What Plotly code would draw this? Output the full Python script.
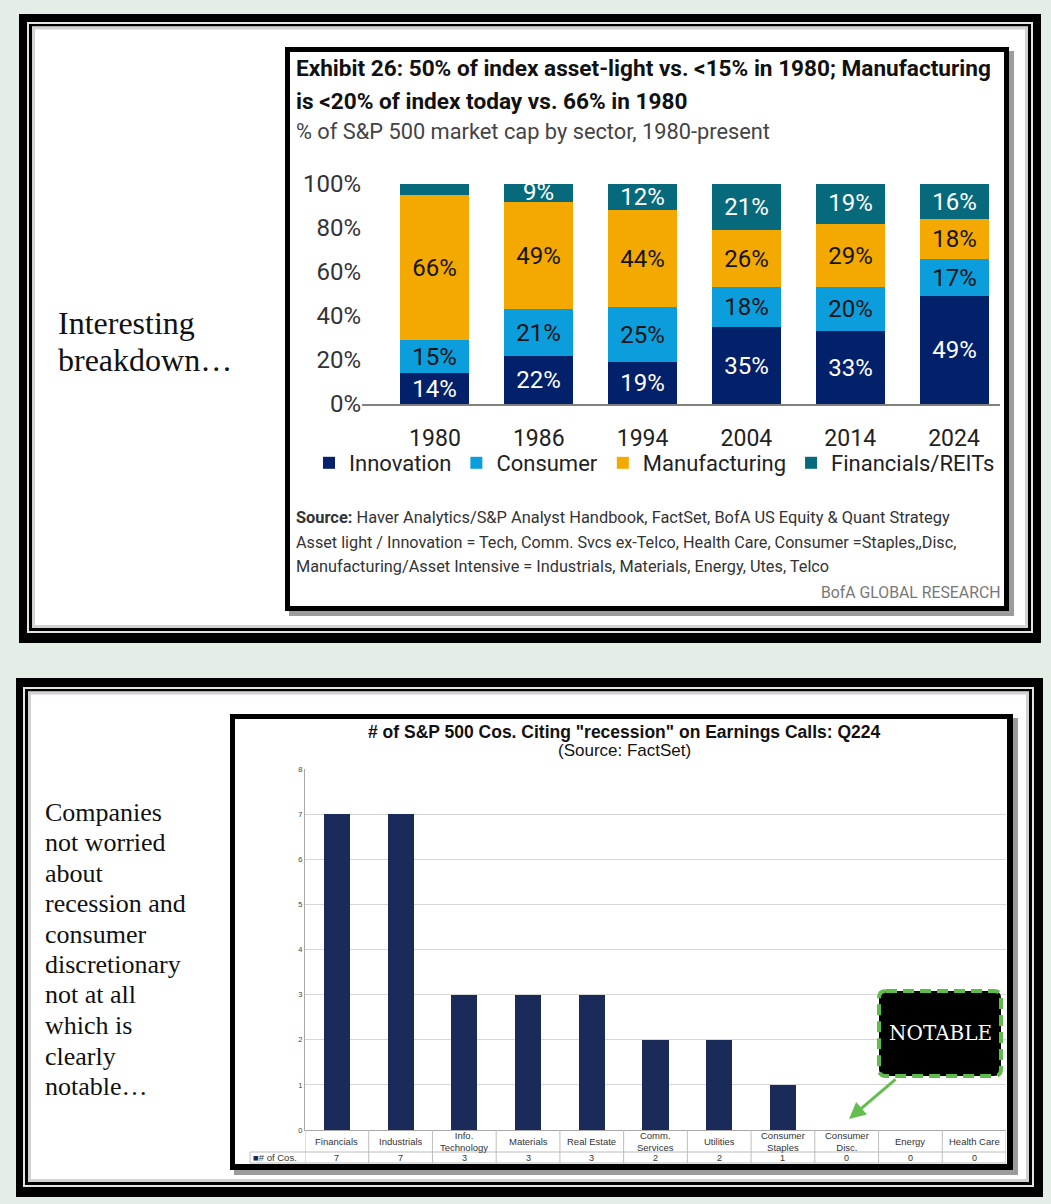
import plotly.graph_objects as go

W, H = 1051, 1204

# ---------------- data: top chart ----------------
years = ["1980", "1986", "1994", "2004", "2014", "2024"]
innovation = [14, 22, 19, 35, 33, 49]
consumer = [15, 21, 25, 18, 20, 17]
manufacturing = [66, 49, 44, 26, 29, 18]
financials = [5, 9, 12, 21, 19, 16]
y_ticks = [0, 20, 40, 60, 80, 100]
y_tick_labels = ["0%", "20%", "40%", "60%", "80%", "100%"]

# ---------------- data: bottom chart ----------------
sectors = ["Financials", "Industrials", "Info. Technology", "Materials", "Real Estate",
           "Comm. Services", "Utilities", "Consumer Staples", "Consumer Disc.", "Energy",
           "Health Care"]
sector_labels = ["Financials", "Industrials", "Info.<br>Technology", "Materials", "Real Estate",
                 "Comm.<br>Services", "Utilities", "Consumer<br>Staples", "Consumer<br>Disc.",
                 "Energy", "Health Care"]
counts = [7, 7, 3, 3, 3, 2, 2, 1, 0, 0, 0]

COND = "Roboto, 'Liberation Sans', sans-serif"
ARIAL = "'Liberation Sans', Arial, sans-serif"
SERIF = "'Liberation Serif', 'DejaVu Serif', serif"
SLAB = "'DejaVu Serif', serif"


def X(px):
    return px / W


def Y(py):
    return 1 - py / H


def rect(x0, y0, x1, y1, fill):
    return dict(type="rect", xref="paper", yref="paper", x0=X(x0), x1=X(x1), y0=Y(y1), y1=Y(y0),
                fillcolor=fill, line=dict(color=fill, width=0), layer="below")


fig = go.Figure()

series = [
    ("Innovation", innovation, "#03206b", "#ffffff"),
    ("Consumer", consumer, "#0c9ddc", "#141414"),
    ("Manufacturing", manufacturing, "#f4a900", "#141414"),
    ("Financials/REITs", financials, "#076a7c", "#ffffff"),
]
for name, vals, color, tcolor in series:
    labels = [f"{v}%" if v >= 9 else "" for v in vals]
    fig.add_trace(go.Bar(
        x=years, y=vals, name=name, marker=dict(color=color, line=dict(width=0)),
        text=labels, textposition="inside", insidetextanchor="middle", textangle=0,
        constraintext="none",
        textfont=dict(family=COND, size=24, color=tcolor), width=0.665,
        xaxis="x", yaxis="y", hoverinfo="skip", cliponaxis=True))

fig.add_trace(go.Bar(
    x=sectors, y=counts, marker=dict(color="#1a2b5a", line=dict(width=0)), width=0.41,
    xaxis="x2", yaxis="y2", showlegend=False, hoverinfo="skip", name="# of Cos."))

shapes = []
# ---- top frame ----
shapes += [
    rect(19, 14, 1041, 643, "#000000"),
    rect(27, 22, 1033, 633, "#dfe7df"),
    rect(29, 24, 1031, 631, "#000000"),
    rect(32, 26.5, 1028, 628, "#ffffff"),
    dict(type="rect", xref="paper", yref="paper", x0=X(33.5), x1=X(1026.5), y0=Y(626.5), y1=Y(28),
         line=dict(color="#d2d2d2", width=3), layer="below"),
]
# ---- bottom frame ----
shapes += [
    rect(16, 678, 1043, 1197, "#000000"),
    rect(23, 687, 1034, 1187, "#dfe7df"),
    rect(25, 689, 1032, 1185, "#000000"),
    rect(28, 691.5, 1029, 1182, "#ffffff"),
    dict(type="rect", xref="paper", yref="paper", x0=X(29.5), x1=X(1027.5), y0=Y(1180.5), y1=Y(693),
         line=dict(color="#d2d2d2", width=3), layer="below"),
]
# ---- chart boxes ----
shapes += [
    rect(289, 51, 1014, 616, "#9c9c9c"),
    rect(285, 47, 1009, 611, "#000000"),
    rect(290, 52, 1004, 606, "#ffffff"),
    rect(234, 718, 1018, 1175, "#9c9c9c"),
    rect(230, 714, 1013, 1170, "#000000"),
    rect(235, 719, 1007, 1164, "#ffffff"),
]
# ---- table lines (bottom chart) ----
TL = "#bdbdbd"
for k in range(len(sectors) + 1):
    shapes.append(dict(type="line", xref="x2", yref="paper", x0=k - 0.5, x1=k - 0.5,
                       y0=Y(1163), y1=Y(1130), line=dict(color=TL, width=1)))
for yy in (1152, 1163):
    shapes.append(dict(type="line", xref="paper", yref="paper", x0=X(250), x1=X(1006),
                       y0=Y(yy), y1=Y(yy), line=dict(color=TL, width=1)))
shapes.append(dict(type="line", xref="paper", yref="paper", x0=X(250), x1=X(250),
                   y0=Y(1163), y1=Y(1152), line=dict(color=TL, width=1)))


# ---- NOTABLE box ----
def rrect_path(x0, y0, x1, y1, r):
    p = lambda x, y: f"{X(x)},{Y(y)}"
    return (f"M {p(x0 + r, y0)} L {p(x1 - r, y0)} Q {p(x1, y0)} {p(x1, y0 + r)} "
            f"L {p(x1, y1 - r)} Q {p(x1, y1)} {p(x1 - r, y1)} L {p(x0 + r, y1)} "
            f"Q {p(x0, y1)} {p(x0, y1 - r)} L {p(x0, y0 + r)} Q {p(x0, y0)} {p(x0 + r, y0)} Z")


shapes.append(dict(type="path", xref="paper", yref="paper", path=rrect_path(879, 991, 1001, 1076, 7),
                   fillcolor="#000000", line=dict(color="#5fbb4a", width=4, dash="11px,6px"),
                   layer="above"))

annotations = []


def txt(x, y, s, size, family, color="#111", xanchor="left", yanchor="middle", **kw):
    annotations.append(dict(text=s, x=X(x), y=Y(y), xref="paper", yref="paper", showarrow=False,
                            xanchor=xanchor, yanchor=yanchor,
                            font=dict(size=size, family=family, color=color), **kw))


# top chart texts
txt(294, 69, "<b>Exhibit 26: 50% of index asset-light vs. &lt;15% in 1980; Manufacturing</b>", 22.6, COND, "#111")
txt(294, 101, "<b>is &lt;20% of index today vs. 66% in 1980</b>", 22.6, COND, "#111")
txt(294, 132, "% of S&P 500 market cap by sector, 1980-present", 21.8, COND, "#444")
txt(294, 517, "<b>Source:</b> Haver Analytics/S&P Analyst Handbook, FactSet, BofA US Equity & Quant Strategy", 16.4, COND, "#333")
txt(294, 542, "Asset light / Innovation = Tech, Comm. Svcs ex-Telco, Health Care, Consumer =Staples,,Disc,", 16.2, COND, "#333")
txt(294, 567, "Manufacturing/Asset Intensive = Industrials, Materials, Energy, Utes, Telco", 16.3, COND, "#333")
txt(1002, 593, "BofA GLOBAL RESEARCH", 15.8, COND, "#777", xanchor="right")

# left commentary
txt(56, 323, "Interesting", 32, SERIF, "#111")
txt(56, 360, "breakdown…", 32, SERIF, "#111")
lines = ["Companies", "not worried", "about", "recession and", "consumer", "discretionary",
         "not at all", "which is", "clearly", "notable…"]
for i, s in enumerate(lines):
    txt(43, 812 + i * 30.5, s, 26, SERIF, "#111")

# bottom chart title
txt(624, 732, "<b># of S&P 500 Cos. Citing \"recession\" on Earnings Calls: Q224</b>", 17.5, ARIAL, "#111", xanchor="center")
txt(624, 750, "(Source: FactSet)", 17, ARIAL, "#111", xanchor="center")

# table header + values
for s, lab, c in zip(sectors, sector_labels, counts):
    annotations.append(dict(text=lab, x=s, xref="x2", y=Y(1141), yref="paper", showarrow=False,
                            xanchor="center", yanchor="middle",
                            font=dict(size=9.5, family=ARIAL, color="#333")))
    annotations.append(dict(text=str(c), x=s, xref="x2", y=Y(1158), yref="paper", showarrow=False,
                            xanchor="center", yanchor="middle",
                            font=dict(size=9, family=ARIAL, color="#333")))
txt(251, 1157.5, "<span style='color:#1a2b5a'>■</span># of Cos.", 9.5, ARIAL, "#333")

# NOTABLE label + arrow
txt(940, 1033, "NOTABLE", 20, SLAB, "#ffffff", xanchor="center")
annotations.append(dict(text="", x=X(849), y=Y(1119), xref="paper", yref="paper", showarrow=True,
                        ax=48, ay=-41, arrowhead=2, arrowsize=1.1, arrowwidth=3,
                        arrowcolor="#63bd4f"))

fig.update_layout(
    width=W, height=H, margin=dict(l=0, r=0, t=0, b=0, pad=0, autoexpand=False),
    paper_bgcolor="#e5eee6", plot_bgcolor="rgba(0,0,0,0)",
    barmode="stack", bargap=0, showlegend=True, hovermode=False,
    shapes=shapes, annotations=annotations,
    legend=dict(orientation="h", x=X(309), y=Y(463), xanchor="left", yanchor="middle",
                font=dict(family=COND, size=22, color="#222"), bgcolor="rgba(0,0,0,0)",
                traceorder="normal", itemclick=False, itemdoubleclick=False),
    xaxis=dict(domain=[X(362), X(1000)], range=[-0.703, 5.443], type="category",
               showline=True, linecolor="#808080", linewidth=2, ticks="",
               tickfont=dict(family=COND, size=23, color="#222"), ticklabelstandoff=12,
               showgrid=False, zeroline=False, anchor="y", fixedrange=True, automargin=False),
    yaxis=dict(domain=[Y(404), Y(184)], range=[0, 100], tickmode="array", tickvals=y_ticks,
               ticktext=y_tick_labels, tickfont=dict(family=COND, size=24, color="#333"),
               showgrid=False, zeroline=False, showline=False, anchor="x", fixedrange=True,
               automargin=False),
    xaxis2=dict(domain=[X(305), X(1006)], range=[-0.5, 10.5], type="category",
                showticklabels=False, showline=True, linecolor="#a8a8a8", linewidth=1,
                ticks="", showgrid=False, zeroline=False, anchor="y2", fixedrange=True,
                automargin=False),
    yaxis2=dict(domain=[Y(1130), Y(769)], range=[0, 8], dtick=1, showgrid=True,
                gridcolor="#d6d6d6", gridwidth=1, showline=True, linecolor="#a8a8a8",
                tickfont=dict(family=ARIAL, size=7.5, color="#444"), zeroline=False,
                anchor="x2", fixedrange=True, automargin=False),
)

fig.write_html("out.html", config={"displayModeBar": False},
               post_script="document.body.style.margin='0';document.body.style.overflow='hidden';")
